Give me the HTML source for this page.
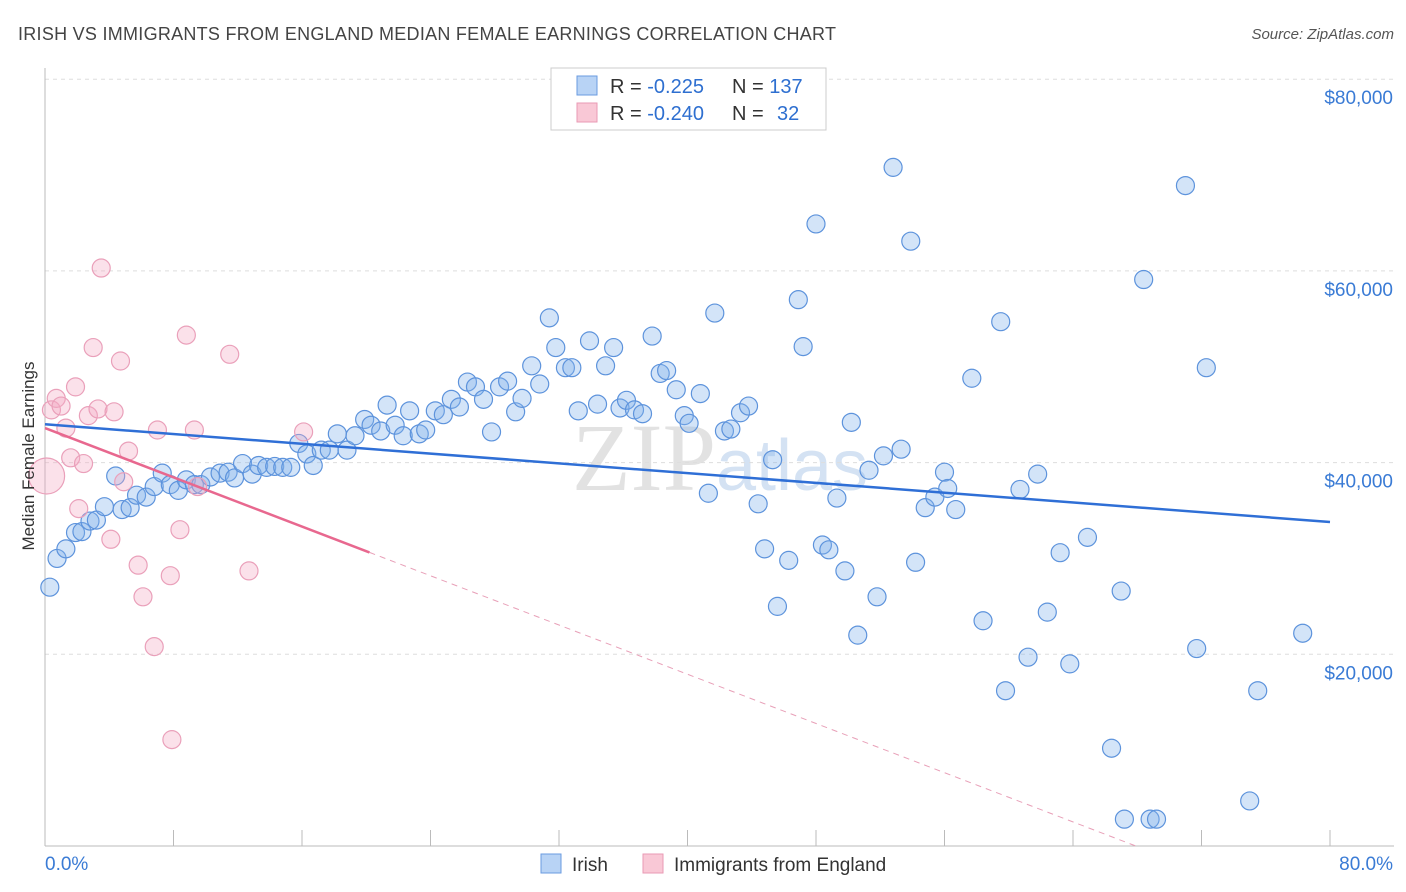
<!DOCTYPE html>
<html><head><meta charset="utf-8"><style>
body{margin:0;background:#fff;font-family:"Liberation Sans",sans-serif;}
#wrap{position:relative;width:1406px;height:892px;overflow:hidden;}
</style></head><body><div id="wrap">
<svg id="svg" width="1406" height="892" xmlns="http://www.w3.org/2000/svg">
<text x="18" y="40" font-size="18" fill="#444" textLength="818">IRISH VS IMMIGRANTS FROM ENGLAND MEDIAN FEMALE EARNINGS CORRELATION CHART</text>
<text x="1394" y="39" font-size="15" fill="#555" text-anchor="end" font-style="italic">Source: ZipAtlas.com</text>
<text x="720" y="490" font-size="96" fill="#e2e2e2" text-anchor="middle" font-family="Liberation Serif">ZIP<tspan fill="#d4e2f3" font-family="Liberation Sans" font-size="72">atlas</tspan></text>
<g id="grid"></g><g id="axes"></g><g id="pts"></g><g id="lines"></g>
<text transform="translate(34,456) rotate(-90)" font-size="17" fill="#333" text-anchor="middle">Median Female Earnings</text>
<g>
<rect x="551" y="68" width="275" height="62" fill="#fff" stroke="#ccc"/>
<rect x="577" y="76" width="20" height="19" fill="#b8d3f5" stroke="#6a9be0"/>
<rect x="577" y="103" width="20" height="19" fill="#f9c8d6" stroke="#e99ab4"/>
<text x="610" y="93" font-size="20" fill="#333">R = <tspan fill="#2e6fd0">-0.225</tspan><tspan x="732">N = </tspan><tspan fill="#2e6fd0">137</tspan></text>
<text x="610" y="120" font-size="20" fill="#333">R = <tspan fill="#2e6fd0">-0.240</tspan><tspan x="732">N = </tspan><tspan fill="#2e6fd0" x="777">32</tspan></text>
</g>
<g>
<rect x="541" y="854" width="20" height="19" fill="#b8d3f5" stroke="#6a9be0"/>
<text x="572" y="871" font-size="19" fill="#333">Irish</text>
<rect x="643" y="854" width="20" height="19" fill="#f9c8d6" stroke="#e99ab4"/>
<text x="674" y="871" font-size="19" fill="#333">Immigrants from England</text>
</g>
</svg></div>
<script>
const xTicks=[0,8,16,24,32,40,48,56,64,72,80];
const yTicks=[20000,40000,60000,80000];
const yTickLabels=["$20,000","$40,000","$60,000","$80,000"];
const irishX=[0.3,0.75,1.3,1.9,2.3,2.8,3.2,3.7,4.4,4.8,5.3,5.7,6.3,6.8,7.3,7.8,8.3,8.8,9.3,9.7,10.3,10.9,11.4,11.8,12.3,12.9,13.3,13.8,14.3,14.8,15.3,15.8,16.3,16.7,17.2,17.7,18.2,18.8,19.3,19.9,20.3,20.9,21.3,21.8,22.3,22.7,23.3,23.7,24.3,24.8,25.3,25.8,26.3,26.8,27.3,27.8,28.3,28.8,29.3,29.7,30.3,30.8,31.4,31.8,32.4,32.8,33.2,33.9,34.4,34.9,35.4,35.8,36.2,36.7,37.2,37.8,38.3,38.7,39.3,39.8,40.1,40.8,41.3,41.7,42.3,42.7,43.3,43.8,44.4,44.8,45.3,45.6,46.3,46.9,47.2,48.0,48.4,48.8,49.3,49.8,50.2,50.6,51.3,51.8,52.2,52.8,53.3,53.9,54.2,54.8,55.4,56.0,56.2,56.7,57.7,58.4,59.5,59.8,60.7,61.2,61.8,62.4,63.2,63.8,64.9,66.4,67.0,67.2,68.4,68.8,69.2,71.0,71.7,72.3,75.0,75.5,78.3];
const irishY=[27.0,30.0,31.0,32.7,32.8,33.9,34.0,35.4,38.6,35.1,35.3,36.6,36.4,37.5,38.9,37.7,37.1,38.2,37.7,37.7,38.5,38.9,39.0,38.4,39.9,38.8,39.7,39.5,39.6,39.5,39.5,42.0,40.9,39.7,41.3,41.3,43.0,41.3,42.8,44.5,43.9,43.3,46.0,43.9,42.8,45.4,43.0,43.4,45.4,45.0,46.6,45.8,48.4,47.9,46.6,43.2,47.9,48.5,45.3,46.7,50.1,48.2,55.1,52.0,49.9,49.9,45.4,52.7,46.1,50.1,52.0,45.7,46.5,45.5,45.1,53.2,49.3,49.6,47.6,44.9,44.1,47.2,36.8,55.6,43.3,43.5,45.2,45.9,35.7,31.0,40.3,25.0,29.8,57.0,52.1,64.9,31.4,30.9,36.3,28.7,44.2,22.0,39.2,26.0,40.7,70.8,41.4,63.1,29.6,35.3,36.4,39.0,37.3,35.1,48.8,23.5,54.7,16.2,37.2,19.7,38.8,24.4,30.6,19.0,32.2,10.2,26.6,2.8,59.1,2.8,2.8,68.9,20.6,49.9,4.7,16.2,22.2];
const engX=[0.1,0.4,0.7,1.0,1.3,1.6,1.9,2.1,2.4,2.7,3.0,3.3,3.5,4.1,4.3,4.7,4.9,5.2,5.8,6.1,6.8,7.0,7.8,7.9,8.4,8.8,9.3,9.5,11.5,12.7,16.1];
const engY=[38.6,45.5,46.7,45.9,43.6,40.5,47.9,35.2,39.9,44.9,52.0,45.6,60.3,32.0,45.3,50.6,38.0,41.2,29.3,26.0,20.8,43.4,28.2,11.1,33.0,53.3,43.4,37.5,51.3,28.7,43.2];
const engR=[18,9,9,9,9,9,9,9,9,9,9,9,9,9,9,9,9,9,9,9,9,9,9,9,9,9,9,9,9,9,9];
const irishTrend=[44.0,33.8];
const engTrend=[43.6,-0.642];
const NS="http://www.w3.org/2000/svg";
const X=v=>45+v/80*1285;
const Y=v=>846-v/20000*191.7;
const Yk=v=>Y(v*1000);
function mk(t,a,p){const e=document.createElementNS(NS,t);for(const k in a)e.setAttribute(k,a[k]);document.getElementById(p).appendChild(e);return e;}
yTicks.forEach((t,i)=>{
 const l=mk('line',{x1:45,x2:1394,y1:Y(t),y2:Y(t),stroke:'#ddd','stroke-dasharray':'4,4'},'grid');
 
 
 const tx=mk('text',{x:1393,y:Y(t)+25,'font-size':19,fill:'#3a7bd5','text-anchor':'end'},'axes');
 tx.textContent=yTickLabels[i];
 
 
});
mk('line',{x1:45,x2:1394,y1:846,y2:846,stroke:'#bbb'},'axes');
mk('line',{x1:45,x2:45,y1:68,y2:846,stroke:'#bbb'},'axes');
xTicks.forEach(t=>{const l=mk('line',{x1:X(t),x2:X(t),y1:830,y2:846,stroke:'#bbb'},'axes');
 
 });
const xl=mk('text',{x:45,y:870,'font-size':19,fill:'#3a7bd5'},'axes');xl.textContent='0.0%';


const xr=mk('text',{x:1393,y:870,'font-size':19,fill:'#3a7bd5','text-anchor':'end'},'axes');xr.textContent='80.0%';


irishX.forEach((x,i)=>{const c=mk('circle',{cx:X(x),cy:Yk(irishY[i]),r:9,fill:'rgba(130,178,235,0.35)',stroke:'#5d93dc','stroke-width':1.2},'pts');
 
 });
engX.forEach((x,i)=>{const c=mk('circle',{cx:X(x),cy:Yk(engY[i]),r:engR[i],fill:'rgba(244,170,195,0.35)',stroke:'#eaa0ba','stroke-width':1.2},'pts');
 
 });
const bl=mk('line',{x1:X(0),y1:Yk(irishTrend[0]),x2:X(80),y2:Yk(irishTrend[1]),stroke:'#2f6fd6','stroke-width':2.5},'lines');


const ey=x=>engTrend[0]+engTrend[1]*x;
const p1=mk('line',{x1:X(0),y1:Yk(ey(0)),x2:X(20.2),y2:Yk(ey(20.2)),stroke:'#e8688f','stroke-width':2.5},'lines');


const xe=-engTrend[0]/engTrend[1];
const p2=mk('line',{x1:X(20.2),y1:Yk(ey(20.2)),x2:X(xe),y2:Yk(0),stroke:'#e8a0b8','stroke-width':1,'stroke-dasharray':'6,5'},'lines');


</script></body></html>
